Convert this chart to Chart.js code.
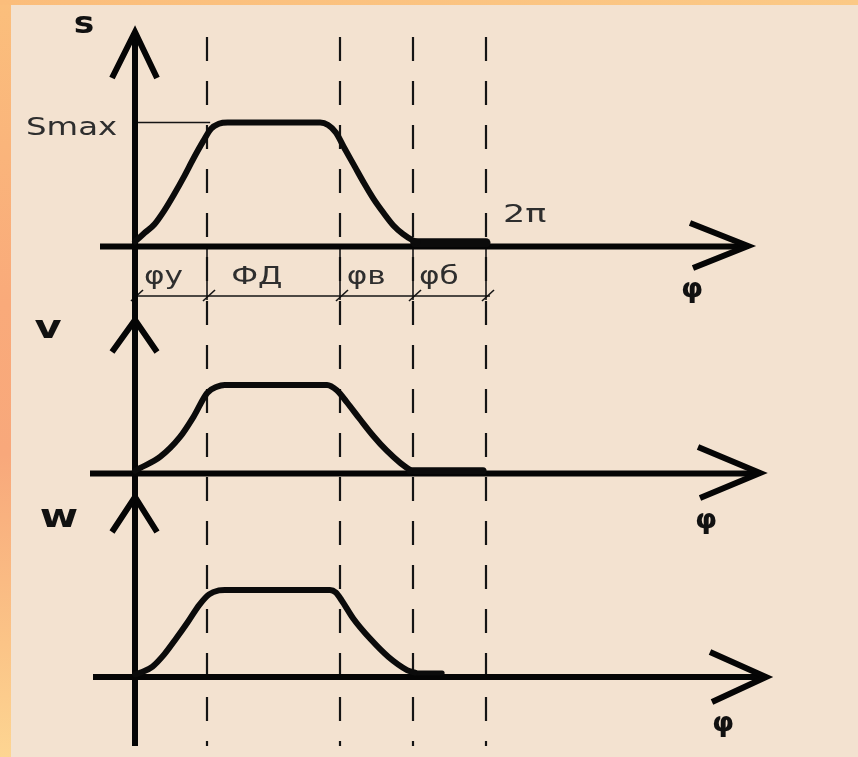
<!DOCTYPE html>
<html>
<head>
<meta charset="utf-8">
<script src="https://cdn.jsdelivr.net/npm/chart.js@4"></script>
<style>
  html, body { margin: 0; padding: 0; }
  body {
    width: 858px; height: 757px; position: relative; overflow: hidden;
    background: linear-gradient(180deg, #fbbf7c 0%, #f9aa7a 40%, #f8a87b 60%, #fbc487 85%, #fdd592 100%);
  }
  #topband { position: absolute; left: 0; top: 0; width: 858px; height: 5px;
             background: linear-gradient(90deg, #fbbd7b, #fbc986); }
  #panel { position: absolute; left: 11px; top: 5px; right: 0; bottom: 0; background: #f3e2d0; }
  canvas { position: absolute; left: 0; top: 0; }
</style>
</head>
<body>
<div id="topband"></div>
<div id="panel"></div>
<canvas id="cam" width="858" height="757"></canvas>
<script>
// Follower motion over one cam revolution: displacement s, velocity v, acceleration w vs. φ (degrees)

// phase boundaries: rise φу, far dwell φд, return φв, near dwell φб (full turn = 360°)
const phaseBounds = [0, 74, 210, 285, 360];
const phaseLabels = ['φу', 'ФД', 'φв', 'φб'];
const axisNames = ['s', 'v', 'w'];
const smaxLabel = 'Smax';
const turnLabel = '2π';
const argLabel = 'φ';

// displacement s (fraction of Smax)
const sPhi = [0, 10, 20, 30, 40, 50, 60, 70, 78, 86, 95, 190, 198, 206, 215, 225, 235, 245, 255, 265, 275, 285, 290];
const sVal = [0.04, 0.11, 0.18, 0.29, 0.42, 0.56, 0.71, 0.85, 0.95, 0.99, 1.0, 1.0, 0.98, 0.92, 0.79, 0.65, 0.51, 0.38, 0.27, 0.17, 0.10, 0.05, 0.035];
const sDwellPhi = [287, 360];
const sDwellVal = [0.03, 0.03];

// velocity v (relative)
const vPhi = [0, 5, 26, 46, 60, 74, 84, 92, 197, 207, 217, 231, 244, 258, 272, 282];
const vVal = [0.03, 0.06, 0.19, 0.41, 0.64, 0.91, 0.98, 1.0, 1.0, 0.94, 0.81, 0.61, 0.43, 0.26, 0.12, 0.04];
const vDwellPhi = [282, 357];
const vDwellVal = [0.03, 0.03];

// acceleration w (relative)
const wPhi = [0, 8, 18, 30, 42, 54, 66, 76, 86, 92, 200, 206, 212, 224, 242, 260, 279, 287];
const wVal = [0.03, 0.06, 0.12, 0.26, 0.44, 0.63, 0.83, 0.95, 0.995, 1.0, 1.0, 0.97, 0.88, 0.67, 0.43, 0.23, 0.08, 0.05];
const wDwellPhi = [287, 315];
const wDwellVal = [0.045, 0.045];

// ---- layout (pixels) ----
const W = 858, H = 757;
const ORIGIN_PX = 135, TURN_PX = 486;
const PANELS = [
  { axis: 'yS', basePx: 246.5, unitPx: 122.5, xFrom: 100, tip: [748, 246], wingA: [690, 223], wingB: [693, 268],
    vTip: 32, vWing: 78, name: { x: 84, y: 33 }, arg: { x: 692, y: 297 } },
  { axis: 'yV', basePx: 473.5, unitPx: 385, xFrom: 90, tip: [760, 473], wingA: [698, 447], wingB: [700, 498],
    vTip: 320, vWing: 352, name: { x: 48, y: 338 }, arg: { x: 706, y: 528 } },
  { axis: 'yW', basePx: 677, unitPx: 590, xFrom: 93, tip: [766, 677], wingA: [710, 652], wingB: [712, 702],
    vTip: 497, vWing: 532, name: { x: 59, y: 527 }, arg: { x: 723, y: 731 } }
];

function yRange(basePx, unitPx) {
  const span = basePx - unitPx;
  return { min: (basePx - H) / span, max: basePx / span };
}
const pxPerDeg = (TURN_PX - ORIGIN_PX) / 360;

function series(phi, val, axis, width) {
  return {
    data: phi.map((p, i) => ({ x: p, y: val[i] })),
    yAxisID: axis,
    borderColor: '#0b0b0b',
    borderWidth: width,
    pointRadius: 0,
    fill: false,
    cubicInterpolationMode: 'monotone',
    borderJoinStyle: 'round',
    borderCapStyle: 'round'
  };
}

function seg(ctx, x1, y1, x2, y2) {
  ctx.beginPath(); ctx.moveTo(x1, y1); ctx.lineTo(x2, y2); ctx.stroke();
}

function stretchedText(ctx, str, x, y, font, sx, align) {
  ctx.save();
  ctx.font = font;
  ctx.translate(x, y);
  ctx.scale(sx, 1);
  ctx.textAlign = align || 'left';
  ctx.textBaseline = 'alphabetic';
  ctx.fillText(str, 0, 0);
  ctx.restore();
}

const schematic = {
  id: 'schematic',
  beforeDatasetsDraw(chart) {
    const ctx = chart.ctx;
    const xs = chart.scales.x;
    const sBase = chart.scales.yS.getPixelForValue(0);
    ctx.save();
    ctx.strokeStyle = '#141414';

    // dashed phase boundaries
    ctx.lineWidth = 2.2;
    ctx.setLineDash([24, 20]);
    phaseBounds.slice(1).forEach(p => {
      const px = Math.round(xs.getPixelForValue(p));
      seg(ctx, px, 37, px, 746);
    });
    ctx.setLineDash([]);

    // dimension row under the s axis
    ctx.lineWidth = 1.6;
    const rowY = 296;
    seg(ctx, xs.getPixelForValue(0), rowY, xs.getPixelForValue(360) + 4, rowY);
    phaseBounds.forEach(p => {
      const px = Math.round(xs.getPixelForValue(p));
      seg(ctx, px, sBase, px, rowY + 4);
      seg(ctx, px - 4, rowY + 5, px + 8, rowY - 6);
    });

    // Smax guide
    const smaxPx = chart.scales.yS.getPixelForValue(1);
    seg(ctx, ORIGIN_PX, smaxPx, xs.getPixelForValue(phaseBounds[1]) + 3, smaxPx);

    // axes with arrows
    ctx.strokeStyle = '#050505';
    ctx.lineWidth = 6;
    ctx.lineCap = 'butt';
    ctx.lineJoin = 'miter';
    const ox = xs.getPixelForValue(0);
    seg(ctx, ox, 34, ox, 746);
    PANELS.forEach(pn => {
      const base = chart.scales[pn.axis].getPixelForValue(0);
      seg(ctx, pn.xFrom, base, pn.tip[0] - 2, base);
      ctx.beginPath();
      ctx.moveTo(pn.wingA[0], pn.wingA[1]);
      ctx.lineTo(pn.tip[0], pn.tip[1]);
      ctx.lineTo(pn.wingB[0], pn.wingB[1]);
      ctx.stroke();
      ctx.beginPath();
      ctx.moveTo(ox - 23, pn.vWing);
      ctx.lineTo(ox, pn.vTip);
      ctx.lineTo(ox + 22, pn.vWing);
      ctx.stroke();
    });
    ctx.restore();
  },
  afterDatasetsDraw(chart) {
    const ctx = chart.ctx;
    const xs = chart.scales.x;
    ctx.save();
    // axis names
    ctx.fillStyle = '#111';
    stretchedText(ctx, axisNames[0], PANELS[0].name.x, PANELS[0].name.y, 'bold 30px "DejaVu Sans"', 1.15, 'center');
    stretchedText(ctx, axisNames[1], PANELS[1].name.x, PANELS[1].name.y, 'bold 32px "DejaVu Sans"', 1.3, 'center');
    stretchedText(ctx, axisNames[2], PANELS[2].name.x, PANELS[2].name.y, 'bold 32px "DejaVu Sans"', 1.3, 'center');
    // argument labels
    PANELS.forEach(pn => {
      stretchedText(ctx, argLabel, pn.arg.x, pn.arg.y, 'bold 27px "DejaVu Sans"', 1.05, 'center');
    });
    // Smax and 2π
    ctx.fillStyle = '#2e2e2e';
    stretchedText(ctx, smaxLabel, 26, 135, '24px "DejaVu Sans"', 1.35);
    stretchedText(ctx, turnLabel, 503, 222, '25px "DejaVu Sans"', 1.4);
    // phase names
    const offs = [9, 24, 7, 6];
    phaseLabels.forEach((t, i) => {
      const px = xs.getPixelForValue(phaseBounds[i]) + offs[i];
      stretchedText(ctx, t, px, 284, '24px "DejaVu Sans"', 1.3);
    });
    ctx.restore();
  }
};

const sR = yRange(PANELS[0].basePx, PANELS[0].unitPx);
const vR = yRange(PANELS[1].basePx, PANELS[1].unitPx);
const wR = yRange(PANELS[2].basePx, PANELS[2].unitPx);

new Chart(document.getElementById('cam'), {
  type: 'line',
  data: {
    datasets: [
      series(sPhi, sVal, 'yS', 6),
      series(sDwellPhi, sDwellVal, 'yS', 9),
      series(vPhi, vVal, 'yV', 6),
      series(vDwellPhi, vDwellVal, 'yV', 7),
      series(wPhi, wVal, 'yW', 6),
      series(wDwellPhi, wDwellVal, 'yW', 5)
    ]
  },
  options: {
    responsive: false,
    animation: false,
    devicePixelRatio: 1,
    layout: { padding: 0 },
    plugins: { legend: { display: false }, tooltip: { enabled: false } },
    scales: {
      x: { type: 'linear', display: false, min: -ORIGIN_PX / pxPerDeg, max: (W - ORIGIN_PX) / pxPerDeg },
      yS: { type: 'linear', display: false, min: sR.min, max: sR.max },
      yV: { type: 'linear', display: false, min: vR.min, max: vR.max },
      yW: { type: 'linear', display: false, min: wR.min, max: wR.max }
    }
  },
  plugins: [schematic]
});
</script>
</body>
</html>
